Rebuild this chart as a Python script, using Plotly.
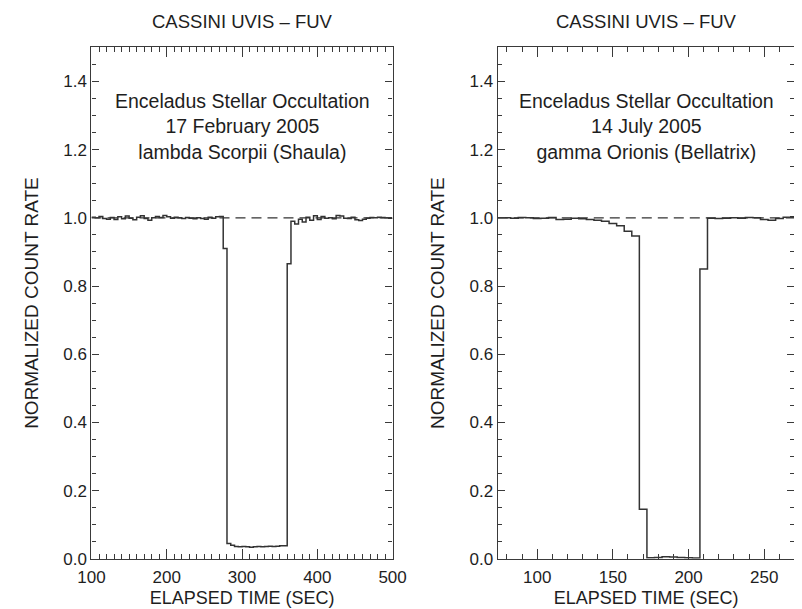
import plotly.graph_objects as go

# ---------------- data ----------------
# Left panel: 17 Feb 2005, lambda Scorpii, 5-s bins starting at 100 s
left_t0 = 100
left_bin = 5
left_rate = [
    1.002, 1.000, 1.004, 0.998, 0.996, 1.001, 0.995, 1.003, 0.997, 1.005,
    0.999, 0.994, 1.002, 1.006, 0.998, 0.993, 1.000, 1.004, 1.001, 1.007,
    1.003, 0.999, 1.002, 1.000, 0.998, 1.001, 0.999, 0.997, 1.000, 0.998,
    0.996, 1.002, 0.999, 1.003, 1.004, 0.910,
    0.045, 0.040, 0.036, 0.035, 0.036, 0.035, 0.034, 0.035, 0.036, 0.035,
    0.036, 0.037, 0.036, 0.037, 0.038, 0.038,
    0.865,
    0.990, 0.982, 0.996, 0.988, 1.002, 0.993, 1.006, 0.995, 1.004, 0.999,
    1.000, 0.997, 1.007, 1.005, 0.999, 0.998, 1.002, 0.994, 0.992, 0.996,
    0.999, 1.001, 1.000, 1.002, 1.001, 1.000, 0.999,
]

# Right panel: 14 July 2005, gamma Orionis, 5-s bins starting at 72.5 s
right_t0 = 72.5
right_bin = 5
right_rate = [
    1.000, 1.000, 0.999, 1.001, 1.000, 0.998, 0.999, 1.001, 0.995, 0.996,
    0.999, 0.997, 0.995, 0.993,
    0.990, 0.983, 0.977, 0.961, 0.947,
    0.145,
    0.003, 0.004, 0.006, 0.005, 0.004, 0.003, 0.002,
    0.850,
    0.999, 0.998, 0.999, 1.000, 0.999, 1.001, 1.000, 0.995, 0.993, 0.998,
    1.002, 1.003,
]

titles = ["CASSINI UVIS \u2013 FUV", "CASSINI UVIS \u2013 FUV"]
notes = [
    "Enceladus Stellar Occultation<br>17 February 2005<br>lambda Scorpii (Shaula)",
    "Enceladus Stellar Occultation<br>14 July 2005<br>gamma Orionis (Bellatrix)",
]
x_label = "ELAPSED TIME (SEC)"
y_label = "NORMALIZED COUNT RATE"
left_xrange = [100, 500]
right_xrange = [74, 270]
y_range = [0, 1.5]
baseline = 1.0

# ---------------- figure ----------------
W, H = 802, 609
FONT = "Liberation Sans, Arial, Helvetica, sans-serif"
LINE = "#333333"
AX = "#3a3a3a"
TXT = "#1e1e1e"


def step_xy(t0, dt, vals):
    xs = [t0 + i * dt for i in range(len(vals) + 1)]
    ys = list(vals) + [vals[-1]]
    return xs, ys


fig = go.Figure()

lx, ly = step_xy(left_t0, left_bin, left_rate)
rx, ry = step_xy(right_t0, right_bin, right_rate)

fig.add_trace(go.Scatter(x=left_xrange, y=[baseline, baseline], mode="lines",
                         line=dict(color=LINE, width=1.3, dash="10px,6px"),
                         xaxis="x", yaxis="y", hoverinfo="skip"))
fig.add_trace(go.Scatter(x=lx, y=ly, mode="lines", line_shape="hv",
                         line=dict(color=LINE, width=1.5), xaxis="x", yaxis="y"))
fig.add_trace(go.Scatter(x=right_xrange, y=[baseline, baseline], mode="lines",
                         line=dict(color=LINE, width=1.3, dash="10px,6px"),
                         xaxis="x2", yaxis="y2", hoverinfo="skip"))
fig.add_trace(go.Scatter(x=rx, y=ry, mode="lines", line_shape="hv",
                         line=dict(color=LINE, width=1.5), xaxis="x2", yaxis="y2"))

ydom = [(H - 560) / H, (H - 40) / H]
ldom = [72 / W, 384 / W]
rdom = [493 / W, 800.5 / W]

common_x = dict(showgrid=False, zeroline=False, showline=True, linecolor=AX, linewidth=1.3,
                mirror="ticks", ticks="inside", ticklen=10, tickwidth=1.1, tickcolor=AX,
                tickfont=dict(family=FONT, size=17, color=TXT), ticklabelstandoff=3,
                title=dict(text=x_label, font=dict(family=FONT, size=18, color=TXT), standoff=5))
common_y = dict(showgrid=False, zeroline=False, showline=True, linecolor=AX, linewidth=1.3,
                mirror="ticks", ticks="inside", ticklen=7, tickwidth=1.1, tickcolor=AX,
                range=y_range, dtick=0.2, tick0=0, tickformat=".1f",
                tickfont=dict(family=FONT, size=17, color=TXT),
                minor=dict(dtick=0.05, ticks="inside", ticklen=4, tickcolor=AX, tickwidth=1),
                title=dict(text=y_label, font=dict(family=FONT, size=19, color=TXT), standoff=19))

fig.update_layout(
    width=W, height=H,
    margin=dict(l=0, r=0, t=0, b=0),
    paper_bgcolor="white", plot_bgcolor="white",
    showlegend=False,
    xaxis=dict(common_x, domain=ldom, range=left_xrange, dtick=100, tick0=0,
               minor=dict(dtick=10, ticks="inside", ticklen=5, tickcolor=AX, tickwidth=1),
               anchor="y"),
    yaxis=dict(common_y, domain=ydom, anchor="x"),
    xaxis2=dict(common_x, domain=rdom, range=right_xrange, dtick=50, tick0=0,
                minor=dict(dtick=10, ticks="inside", ticklen=5, tickcolor=AX, tickwidth=1),
                anchor="y2"),
    yaxis2=dict(common_y, domain=ydom, anchor="x2"),
)

for i, (xd, note, title) in enumerate([("x domain", notes[0], titles[0]),
                                       ("x2 domain", notes[1], titles[1])]):
    yref = "y domain" if i == 0 else "y2 domain"
    fig.add_annotation(xref=xd, yref=yref, x=0.5, y=1.0, yshift=13, text=title,
                       showarrow=False, xanchor="center", yanchor="bottom",
                       font=dict(family=FONT, size=18.5, color=TXT))
    fig.add_annotation(xref=xd, yref=yref, x=0.5, y=0.92, text=note,
                       showarrow=False, xanchor="center", yanchor="top", align="center",
                       font=dict(family=FONT, size=19.5, color=TXT))

fig.write_html("out.html")
